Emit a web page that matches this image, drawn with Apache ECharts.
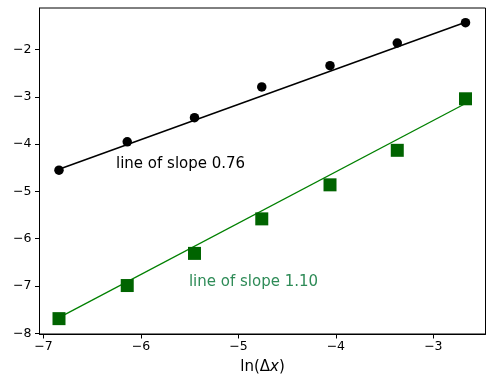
<!DOCTYPE html>
<html lang="en">
	<head>
		<meta charset="UTF-8" />
		<title>Slopes</title>
		<script src="https://cdn.jsdelivr.net/npm/echarts@6/dist/echarts.min.js"></script>
		<style>
			html, body { margin: 0; padding: 0; background: #fff; }
			#chart { width: 503px; height: 387px; }
		</style>
	</head>
	<body>
		<div id="chart"></div>
		<script>
			// values
			const lnDx = [-6.84, -6.14, -5.45, -4.76, -4.06, -3.37, -2.67];
			const blackPts = [-4.55, -3.95, -3.44, -2.79, -2.34, -1.86, -1.43];
			const greenPts = [-7.69, -6.99, -6.31, -5.58, -4.86, -4.13, -3.04];
			// end points of the fitted lines
			const fitX = [-6.84, -2.67];
			const blackFit = [-4.53, -1.42];
			const greenFit = [-7.67, -3.14];
			const xTicks = [-7, -6, -5, -4, -3];
			const yTicks = [-8, -7, -6, -5, -4, -3, -2];
			const notes = [
				{ text: "line of slope 0.76", x: -6.255, y: -4.415, color: "#000000" },
				{ text: "line of slope 1.10", x: -5.507, y: -6.915, color: "#2e8b57" }
			];

			const font = "DejaVu Sans";
			const minus = (v) => String(v).replace("-", "\u2212");
			const pairs = (xs, ys) => xs.map((x, i) => [x, ys[i]]);

			const chart = echarts.init(document.getElementById("chart"), null, { renderer: "canvas" });

			const noteSeries = notes.map((n) => ({
				type: "scatter",
				silent: true,
				symbolSize: 0,
				z: 5,
				itemStyle: { opacity: 1 },
				data: [[n.x, n.y]],
				label: {
					show: true,
					position: "right",
					distance: 0,
					formatter: n.text,
					color: n.color,
					opacity: 1,
					fontFamily: font,
					fontSize: 15
				}
			}));

			chart.setOption({
				animation: false,
				backgroundColor: "#ffffff",
				grid: {
					left: 39.5,
					right: 17.5,
					top: 8,
					bottom: 53,
					show: true,
					borderColor: "#000",
					borderWidth: 1
				},
				xAxis: {
					type: "value",
					min: -7.04,
					max: -2.465,
					splitLine: { show: false },
					axisLine: { lineStyle: { color: "#000", width: 1 } },
					axisTick: { show: true, length: 4.5, lineStyle: { color: "#000" }, customValues: xTicks },
					axisLabel: {
						customValues: xTicks,
						formatter: minus,
						color: "#000",
						fontFamily: font,
						fontSize: 12.5,
						margin: 6
					},
					name: "ln(\u0394{i|x})",
					nameLocation: "middle",
					nameGap: 26,
					nameTextStyle: {
						color: "#000",
						fontFamily: font,
						fontSize: 15,
						rich: { i: { fontStyle: "italic", fontFamily: font, fontSize: 15, color: "#000" } }
					}
				},
				yAxis: {
					type: "value",
					min: -8.015,
					max: -1.12,
					splitLine: { show: false },
					axisLine: { show: true, lineStyle: { color: "#000", width: 1 } },
					axisTick: { show: true, length: 4.5, lineStyle: { color: "#000" }, customValues: yTicks },
					axisLabel: {
						customValues: yTicks,
						formatter: minus,
						color: "#000",
						fontFamily: font,
						fontSize: 12.5,
						margin: 8
					}
				},
				series: [
					{
						type: "line",
						data: pairs(fitX, blackFit),
						symbol: "none",
						lineStyle: { color: "#000000", width: 1.5 },
						z: 2
					},
					{
						type: "scatter",
						data: pairs(lnDx, blackPts),
						symbol: "circle",
						symbolSize: 9.5,
						itemStyle: { color: "#000000", opacity: 1 },
						z: 3
					},
					{
						type: "line",
						data: pairs(fitX, greenFit),
						symbol: "none",
						lineStyle: { color: "#008000", width: 1.3 },
						z: 2
					},
					{
						type: "scatter",
						data: pairs(lnDx, greenPts),
						symbol: "rect",
						symbolSize: 13,
						itemStyle: { color: "#006400", opacity: 1 },
						z: 3
					}
				].concat(noteSeries)
			});
		</script>
	</body>
</html>
